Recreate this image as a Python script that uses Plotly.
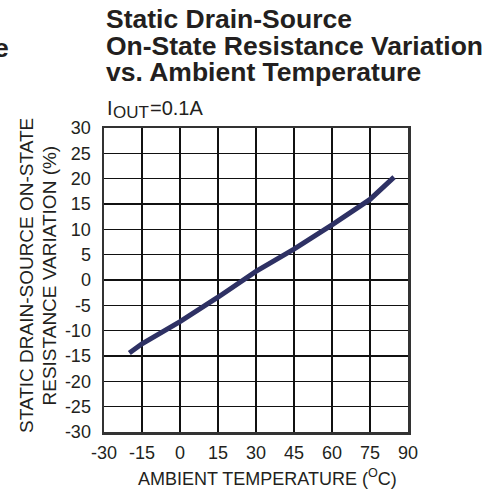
import plotly.graph_objects as go

# Data
temperature_c = [-20, -15, 0, 15, 30, 45, 60, 75, 84.5]
resistance_variation_pct = [-14.4, -12.6, -8.2, -3.4, 1.7, 6.1, 10.9, 15.9, 20.3]

x_ticks = [-30, -15, 0, 15, 30, 45, 60, 75, 90]
y_ticks = [-30, -25, -20, -15, -10, -5, 0, 5, 10, 15, 20, 25, 30]

title_lines = ["Static Drain-Source", "On-State Resistance Variation", "vs. Ambient Temperature"]
sub_parts = ["I", "OUT", "=0.1A"]
x_title = "AMBIENT TEMPERATURE (<sup>O</sup>C)"
y_title_lines = ["STATIC DRAIN-SOURCE ON-STATE", "RESISTANCE VARIATION (%)"]

W, H = 499, 491
L, R, T, B = 104, 408, 128, 432

FONT = "Liberation Sans, Arial, sans-serif"
INK = "#231f20"

fig = go.Figure()
fig.add_trace(go.Scatter(
    x=temperature_c, y=resistance_variation_pct, mode="lines",
    line=dict(color="#2e3164", width=5),
    showlegend=False, hoverinfo="skip"))

def py(p):
    return (B - p) / (B - T)

def px(p):
    return (p - L) / (R - L)

def note(text, x, y, size, xanchor="left", bold=False, angle=0):
    return dict(text=("<b>%s</b>" % text) if bold else text, x=px(x), y=py(y),
                xref="paper", yref="paper", xanchor=xanchor, yanchor="middle",
                textangle=angle, showarrow=False,
                font=dict(family=FONT, size=size, color=INK))

ann = []
for line, bl in zip(title_lines, [26, 54, 80]):
    ann.append(note(line, 104, bl - 7.5, 26.5, bold=True))
# partial glyph from neighbouring chart title at left edge
ann.append(note("e", 11, 55 - 7.5, 26.5, xanchor="right", bold=True))
# I_OUT = 0.1A
ann.append(note(sub_parts[0], 105, 115 - 6.5, 20))
ann.append(note(sub_parts[1], 110.5, 117.5 - 5.5, 17))
ann.append(note(sub_parts[2], 147.5, 115 - 6.5, 20))
ann.append(note(x_title, 267, 477, 18, xanchor="center"))
for line, cx in zip(y_title_lines, [26, 48.5]):
    ann.append(note(line, cx, 276, 19, xanchor="center", angle=-90))

fig.update_layout(
    width=W, height=H,
    margin=dict(l=L, r=W - R, t=T, b=H - B, pad=0),
    paper_bgcolor="white", plot_bgcolor="white",
    font=dict(family=FONT, size=18, color=INK),
    annotations=ann,
    xaxis=dict(range=[-30, 90], tickvals=x_ticks, ticktext=[str(v) for v in x_ticks],
               showgrid=True, gridcolor="#111111", gridwidth=1.5,
               showline=True, linecolor="#333333", linewidth=2.5, mirror=True,
               zeroline=False, ticks="", ticklabelstandoff=3, fixedrange=True),
    yaxis=dict(range=[-30, 30], tickvals=y_ticks, ticktext=[str(v) for v in y_ticks],
               showgrid=True, gridcolor="#111111", gridwidth=1.5,
               showline=True, linecolor="#333333", linewidth=2.5, mirror=True,
               zeroline=False, ticks="", ticklabelstandoff=7, fixedrange=True),
)

fig.write_html("out.html", config={"displayModeBar": False, "staticPlot": True},
               post_script="document.body.style.margin='0';")
